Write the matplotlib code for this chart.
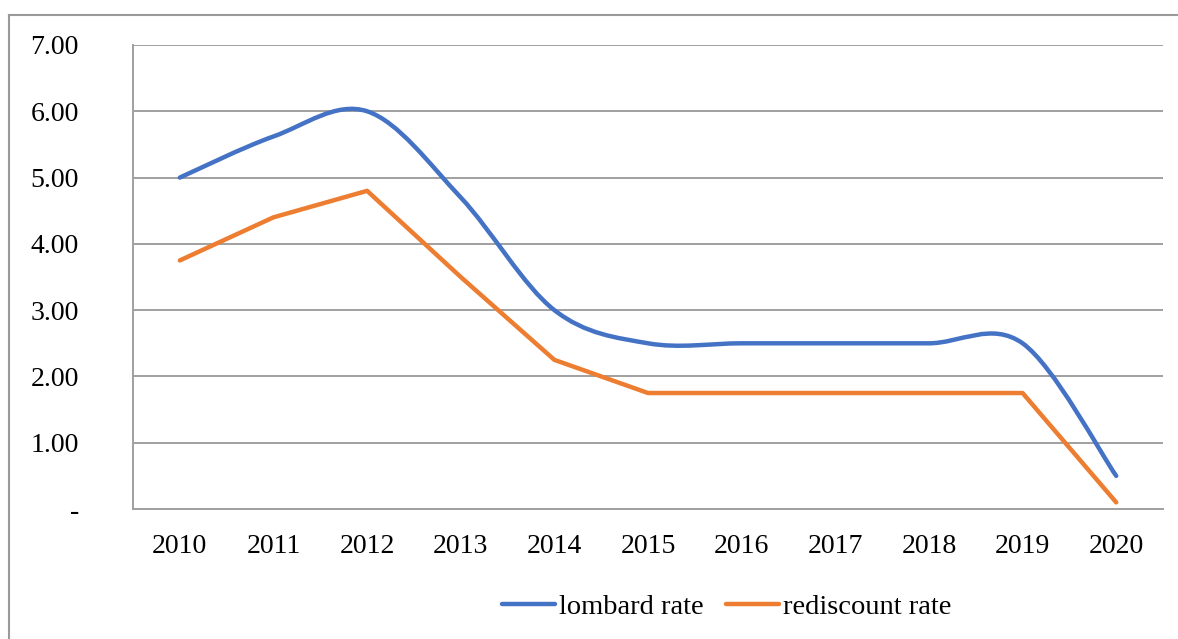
import matplotlib
matplotlib.use("Agg")
import matplotlib.pyplot as plt
from matplotlib.path import Path
from matplotlib.patches import PathPatch
from matplotlib.lines import Line2D
import numpy as np

# Daten
years = ["2010", "2011", "2012", "2013", "2014", "2015",
         "2016", "2017", "2018", "2019", "2020"]
lombard = [5.00, 5.62, 6.00, 4.70, 3.00, 2.50, 2.50, 2.50, 2.50, 2.50, 0.50]
rediscount = [3.75, 4.40, 4.80, 3.50, 2.25, 1.75, 1.75, 1.75, 1.75, 1.75, 0.10]
ytick_vals = [0, 1, 2, 3, 4, 5, 6, 7]

BLUE = "#4472C4"
ORANGE = "#ED7D31"
GRID = "#A0A0A0"
FS = 20

plt.rcParams["font.family"] = ["Liberation Serif", "DejaVu Serif"]


# Excel-artige Glättung: Bezier-Kontrollpunkte aus den Nachbarn
def smooth_path(xs, ys):
    pts = np.column_stack([xs, ys])
    n = len(pts)
    verts = [pts[0]]
    codes = [Path.MOVETO]
    for i in range(n - 1):
        p0 = pts[max(i - 1, 0)]
        p1 = pts[i]
        p2 = pts[i + 1]
        p3 = pts[min(i + 2, n - 1)]
        verts += [p1 + (p2 - p0) / 6, p2 - (p3 - p1) / 6, p2]
        codes += [Path.CURVE4] * 3
    return Path(verts, codes)


fig = plt.figure(figsize=(11.78, 6.39), dpi=100)
ax = fig.add_axes([0.1129, 0.2034, 0.8744, 0.7262])

x = np.arange(len(years))
ax.add_patch(PathPatch(smooth_path(x, lombard), fill=False,
                       edgecolor=BLUE, lw=3.2, capstyle="round", zorder=3))
ax.plot(x, rediscount, color=ORANGE, lw=3.2, solid_capstyle="round",
        solid_joinstyle="round", zorder=3)

ax.set_xlim(-0.5, len(years) - 0.5)
ax.set_ylim(0, 7)
ax.set_xticks(x)
ax.set_xticklabels(years)
ax.set_yticks(ytick_vals)
ax.set_yticklabels(["-" if v == 0 else f"{v:.2f}" for v in ytick_vals])
ax.tick_params(axis="both", length=0, labelsize=FS, colors="black")
ax.tick_params(axis="y", pad=39)
ax.tick_params(axis="x", pad=18)

ax.grid(axis="y", color=GRID, lw=1.4)
ax.set_axisbelow(True)
for side in ("top", "right"):
    ax.spines[side].set_visible(False)
for side in ("left", "bottom"):
    ax.spines[side].set_color(GRID)
    ax.spines[side].set_linewidth(1.4)

handles = [Line2D([], [], color=BLUE, lw=3.2, solid_capstyle="round"),
           Line2D([], [], color=ORANGE, lw=3.2, solid_capstyle="round")]
fig.legend(handles, ["lombard rate", "rediscount rate"], loc="center",
           bbox_to_anchor=(0.617, 0.05), ncol=2, frameon=False,
           fontsize=FS + 0.5, handlelength=1.85, handletextpad=0.15,
           columnspacing=0.8)

# äußerer Rahmen (oben und links)
fig.add_artist(Line2D([9 / 1178, 1.0], [1 - 15 / 639, 1 - 15 / 639],
                      transform=fig.transFigure, color="#9A9A9A", lw=1.5))
fig.add_artist(Line2D([9 / 1178, 9 / 1178], [0.0, 1 - 15 / 639],
                      transform=fig.transFigure, color="#9A9A9A", lw=1.5))

fig.savefig("out.png", dpi=100)
